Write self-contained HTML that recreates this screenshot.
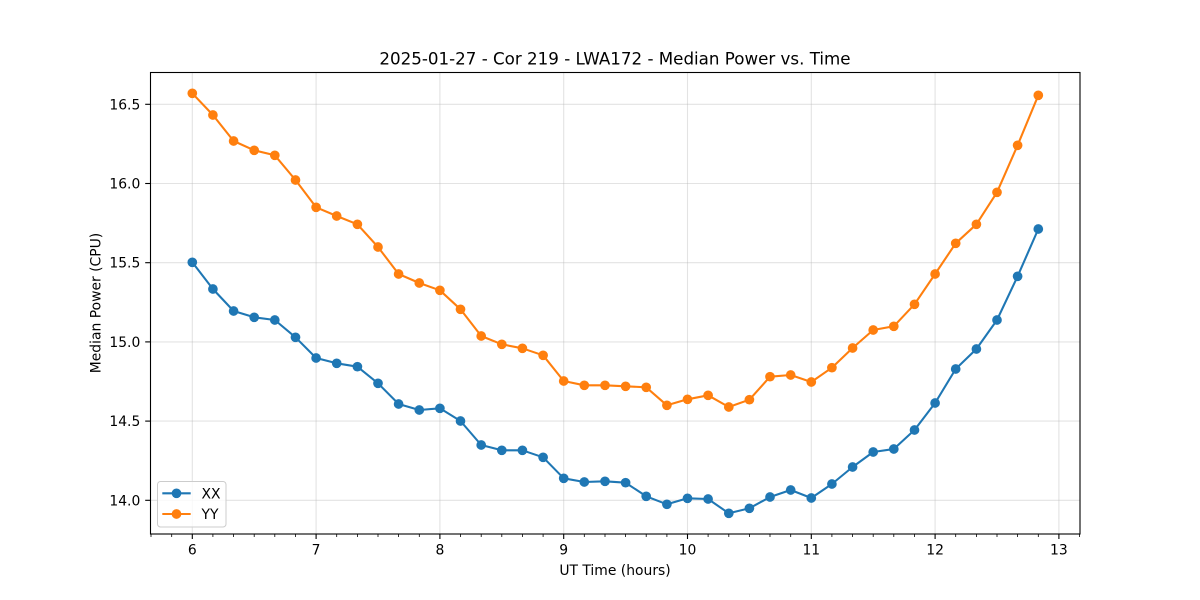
<!DOCTYPE html>
<html><head><meta charset="utf-8"><style>
html,body{margin:0;padding:0;background:#fff;}
svg{display:block;}
text{font-family:"DejaVu Sans","Liberation Sans",sans-serif;fill:#000;}
</style></head><body>
<svg width="1200" height="600" viewBox="0 0 1200 600" xmlns="http://www.w3.org/2000/svg">
<rect width="1200" height="600" fill="#fff"/>
<!-- grid -->
<g stroke="#b0b0b0" stroke-opacity="0.35" stroke-width="1.1">
<line x1="192.3" y1="72" x2="192.3" y2="534"/>
<line x1="316.1" y1="72" x2="316.1" y2="534"/>
<line x1="439.9" y1="72" x2="439.9" y2="534"/>
<line x1="563.7" y1="72" x2="563.7" y2="534"/>
<line x1="687.5" y1="72" x2="687.5" y2="534"/>
<line x1="811.3" y1="72" x2="811.3" y2="534"/>
<line x1="935.1" y1="72" x2="935.1" y2="534"/>
<line x1="1058.9" y1="72" x2="1058.9" y2="534"/>
<line x1="150" y1="104.3" x2="1080" y2="104.3"/>
<line x1="150" y1="183.5" x2="1080" y2="183.5"/>
<line x1="150" y1="262.7" x2="1080" y2="262.7"/>
<line x1="150" y1="341.9" x2="1080" y2="341.9"/>
<line x1="150" y1="421.1" x2="1080" y2="421.1"/>
<line x1="150" y1="500.3" x2="1080" y2="500.3"/>
</g>
<!-- XX -->
<g fill="#1f77b4">
<polyline fill="none" stroke="#1f77b4" stroke-width="2.08" stroke-linejoin="round" points="192.3,262.3 212.9,289 233.6,311 254.2,317.3 274.8,320 295.5,337.3 316.1,358 336.7,363.3 357.4,366.7 378,383.3 398.6,404 419.3,410 439.9,408.3 460.5,421 481.2,445 501.8,450.3 522.4,450.3 543.1,457.3 563.7,478.3 584.3,482 605,481.3 625.6,482.7 646.2,496.3 666.9,504.3 687.5,498.3 708.1,499 728.8,513.3 749.4,508.3 770,497 790.7,490 811.3,498 831.9,484 852.6,467 873.2,452 893.8,449 914.5,430 935.1,403 955.7,369 976.4,349 997,320 1017.6,276.3 1038.3,229"/>
<circle cx="192.3" cy="262.3" r="4.85"/><circle cx="212.9" cy="289" r="4.85"/><circle cx="233.6" cy="311" r="4.85"/><circle cx="254.2" cy="317.3" r="4.85"/><circle cx="274.8" cy="320" r="4.85"/><circle cx="295.5" cy="337.3" r="4.85"/><circle cx="316.1" cy="358" r="4.85"/><circle cx="336.7" cy="363.3" r="4.85"/><circle cx="357.4" cy="366.7" r="4.85"/><circle cx="378" cy="383.3" r="4.85"/><circle cx="398.6" cy="404" r="4.85"/><circle cx="419.3" cy="410" r="4.85"/><circle cx="439.9" cy="408.3" r="4.85"/><circle cx="460.5" cy="421" r="4.85"/><circle cx="481.2" cy="445" r="4.85"/><circle cx="501.8" cy="450.3" r="4.85"/><circle cx="522.4" cy="450.3" r="4.85"/><circle cx="543.1" cy="457.3" r="4.85"/><circle cx="563.7" cy="478.3" r="4.85"/><circle cx="584.3" cy="482" r="4.85"/><circle cx="605" cy="481.3" r="4.85"/><circle cx="625.6" cy="482.7" r="4.85"/><circle cx="646.2" cy="496.3" r="4.85"/><circle cx="666.9" cy="504.3" r="4.85"/><circle cx="687.5" cy="498.3" r="4.85"/><circle cx="708.1" cy="499" r="4.85"/><circle cx="728.8" cy="513.3" r="4.85"/><circle cx="749.4" cy="508.3" r="4.85"/><circle cx="770" cy="497" r="4.85"/><circle cx="790.7" cy="490" r="4.85"/><circle cx="811.3" cy="498" r="4.85"/><circle cx="831.9" cy="484" r="4.85"/><circle cx="852.6" cy="467" r="4.85"/><circle cx="873.2" cy="452" r="4.85"/><circle cx="893.8" cy="449" r="4.85"/><circle cx="914.5" cy="430" r="4.85"/><circle cx="935.1" cy="403" r="4.85"/><circle cx="955.7" cy="369" r="4.85"/><circle cx="976.4" cy="349" r="4.85"/><circle cx="997" cy="320" r="4.85"/><circle cx="1017.6" cy="276.3" r="4.85"/><circle cx="1038.3" cy="229" r="4.85"/>
</g>
<!-- YY -->
<g fill="#ff7f0e">
<polyline fill="none" stroke="#ff7f0e" stroke-width="2.08" stroke-linejoin="round" points="192.3,93.3 212.9,115 233.6,141 254.2,150.3 274.8,155.3 295.5,180 316.1,207.3 336.7,216 357.4,224.3 378,247 398.6,274 419.3,283 439.9,290.3 460.5,309.3 481.2,336 501.8,344.3 522.4,348.3 543.1,355.3 563.7,381 584.3,385.3 605,385.3 625.6,386.3 646.2,387.3 666.9,405.3 687.5,399.3 708.1,395.3 728.8,407 749.4,399.7 770,376.7 790.7,375 811.3,382 831.9,367.7 852.6,348 873.2,330 893.8,326.3 914.5,304.3 935.1,274 955.7,243.3 976.4,224.3 997,192.3 1017.6,145.3 1038.3,95.3"/>
<circle cx="192.3" cy="93.3" r="4.85"/><circle cx="212.9" cy="115" r="4.85"/><circle cx="233.6" cy="141" r="4.85"/><circle cx="254.2" cy="150.3" r="4.85"/><circle cx="274.8" cy="155.3" r="4.85"/><circle cx="295.5" cy="180" r="4.85"/><circle cx="316.1" cy="207.3" r="4.85"/><circle cx="336.7" cy="216" r="4.85"/><circle cx="357.4" cy="224.3" r="4.85"/><circle cx="378" cy="247" r="4.85"/><circle cx="398.6" cy="274" r="4.85"/><circle cx="419.3" cy="283" r="4.85"/><circle cx="439.9" cy="290.3" r="4.85"/><circle cx="460.5" cy="309.3" r="4.85"/><circle cx="481.2" cy="336" r="4.85"/><circle cx="501.8" cy="344.3" r="4.85"/><circle cx="522.4" cy="348.3" r="4.85"/><circle cx="543.1" cy="355.3" r="4.85"/><circle cx="563.7" cy="381" r="4.85"/><circle cx="584.3" cy="385.3" r="4.85"/><circle cx="605" cy="385.3" r="4.85"/><circle cx="625.6" cy="386.3" r="4.85"/><circle cx="646.2" cy="387.3" r="4.85"/><circle cx="666.9" cy="405.3" r="4.85"/><circle cx="687.5" cy="399.3" r="4.85"/><circle cx="708.1" cy="395.3" r="4.85"/><circle cx="728.8" cy="407" r="4.85"/><circle cx="749.4" cy="399.7" r="4.85"/><circle cx="770" cy="376.7" r="4.85"/><circle cx="790.7" cy="375" r="4.85"/><circle cx="811.3" cy="382" r="4.85"/><circle cx="831.9" cy="367.7" r="4.85"/><circle cx="852.6" cy="348" r="4.85"/><circle cx="873.2" cy="330" r="4.85"/><circle cx="893.8" cy="326.3" r="4.85"/><circle cx="914.5" cy="304.3" r="4.85"/><circle cx="935.1" cy="274" r="4.85"/><circle cx="955.7" cy="243.3" r="4.85"/><circle cx="976.4" cy="224.3" r="4.85"/><circle cx="997" cy="192.3" r="4.85"/><circle cx="1017.6" cy="145.3" r="4.85"/><circle cx="1038.3" cy="95.3" r="4.85"/>
</g>
<!-- spines -->
<rect x="150.5" y="72.5" width="929.5" height="461.5" fill="none" stroke="#000" stroke-width="1.1"/>
<!-- major ticks -->
<g stroke="#000" stroke-width="1.1">
<line x1="192.3" y1="534" x2="192.3" y2="539"/>
<line x1="316.1" y1="534" x2="316.1" y2="539"/>
<line x1="439.9" y1="534" x2="439.9" y2="539"/>
<line x1="563.7" y1="534" x2="563.7" y2="539"/>
<line x1="687.5" y1="534" x2="687.5" y2="539"/>
<line x1="811.3" y1="534" x2="811.3" y2="539"/>
<line x1="935.1" y1="534" x2="935.1" y2="539"/>
<line x1="1058.9" y1="534" x2="1058.9" y2="539"/>
<line x1="145.2" y1="104.3" x2="150" y2="104.3"/>
<line x1="145.2" y1="183.5" x2="150" y2="183.5"/>
<line x1="145.2" y1="262.7" x2="150" y2="262.7"/>
<line x1="145.2" y1="341.9" x2="150" y2="341.9"/>
<line x1="145.2" y1="421.1" x2="150" y2="421.1"/>
<line x1="145.2" y1="500.3" x2="150" y2="500.3"/>
</g>
<!-- minor x ticks -->
<g stroke="#000" stroke-width="0.8">
<line x1="151" y1="534" x2="151" y2="537"/><line x1="171.7" y1="534" x2="171.7" y2="537"/>
<line x1="212.9" y1="534" x2="212.9" y2="537"/><line x1="233.6" y1="534" x2="233.6" y2="537"/><line x1="254.2" y1="534" x2="254.2" y2="537"/><line x1="274.8" y1="534" x2="274.8" y2="537"/><line x1="295.5" y1="534" x2="295.5" y2="537"/>
<line x1="336.7" y1="534" x2="336.7" y2="537"/><line x1="357.4" y1="534" x2="357.4" y2="537"/><line x1="378" y1="534" x2="378" y2="537"/><line x1="398.6" y1="534" x2="398.6" y2="537"/><line x1="419.3" y1="534" x2="419.3" y2="537"/>
<line x1="460.5" y1="534" x2="460.5" y2="537"/><line x1="481.2" y1="534" x2="481.2" y2="537"/><line x1="501.8" y1="534" x2="501.8" y2="537"/><line x1="522.4" y1="534" x2="522.4" y2="537"/><line x1="543.1" y1="534" x2="543.1" y2="537"/>
<line x1="584.3" y1="534" x2="584.3" y2="537"/><line x1="605" y1="534" x2="605" y2="537"/><line x1="625.6" y1="534" x2="625.6" y2="537"/><line x1="646.2" y1="534" x2="646.2" y2="537"/><line x1="666.9" y1="534" x2="666.9" y2="537"/>
<line x1="708.1" y1="534" x2="708.1" y2="537"/><line x1="728.8" y1="534" x2="728.8" y2="537"/><line x1="749.4" y1="534" x2="749.4" y2="537"/><line x1="770" y1="534" x2="770" y2="537"/><line x1="790.7" y1="534" x2="790.7" y2="537"/>
<line x1="831.9" y1="534" x2="831.9" y2="537"/><line x1="852.6" y1="534" x2="852.6" y2="537"/><line x1="873.2" y1="534" x2="873.2" y2="537"/><line x1="893.8" y1="534" x2="893.8" y2="537"/><line x1="914.5" y1="534" x2="914.5" y2="537"/>
<line x1="955.7" y1="534" x2="955.7" y2="537"/><line x1="976.4" y1="534" x2="976.4" y2="537"/><line x1="997" y1="534" x2="997" y2="537"/><line x1="1017.6" y1="534" x2="1017.6" y2="537"/><line x1="1038.3" y1="534" x2="1038.3" y2="537"/>
<line x1="1079.5" y1="534" x2="1079.5" y2="537"/>
</g>
<!-- tick labels -->
<g font-size="13.9" text-anchor="middle">
<text x="192.3" y="554.5">6</text>
<text x="316.1" y="554.5">7</text>
<text x="439.9" y="554.5">8</text>
<text x="563.7" y="554.5">9</text>
<text x="687.5" y="554.5">10</text>
<text x="811.3" y="554.5">11</text>
<text x="935.1" y="554.5">12</text>
<text x="1058.9" y="554.5">13</text>
</g>
<g font-size="13.9" text-anchor="end">
<text x="140.3" y="109.3">16.5</text>
<text x="140.3" y="188.5">16.0</text>
<text x="140.3" y="267.7">15.5</text>
<text x="140.3" y="346.9">15.0</text>
<text x="140.3" y="426.1">14.5</text>
<text x="140.3" y="505.3">14.0</text>
</g>
<!-- labels -->
<text x="615" y="64.3" font-size="16.7" text-anchor="middle">2025-01-27 - Cor 219 - LWA172 - Median Power vs. Time</text>
<text x="615" y="575" font-size="13.9" text-anchor="middle">UT Time (hours)</text>
<text x="100.5" y="303" font-size="13.9" text-anchor="middle" transform="rotate(-90 100.5 303)">Median Power (CPU)</text>
<!-- legend -->
<rect x="157.5" y="481.5" width="68.5" height="45.5" rx="3" ry="3" fill="#fff" fill-opacity="0.8" stroke="#cccccc" stroke-width="1"/>
<line x1="162.3" y1="493.3" x2="190.7" y2="493.3" stroke="#1f77b4" stroke-width="2.08"/>
<circle cx="176.5" cy="493.3" r="4.85" fill="#1f77b4"/>
<line x1="162.3" y1="514" x2="190.7" y2="514" stroke="#ff7f0e" stroke-width="2.08"/>
<circle cx="176.5" cy="514" r="4.85" fill="#ff7f0e"/>
<text x="201.5" y="498.3" font-size="13.9">XX</text>
<text x="201.5" y="519" font-size="13.9">YY</text>
</svg>
</body></html>
